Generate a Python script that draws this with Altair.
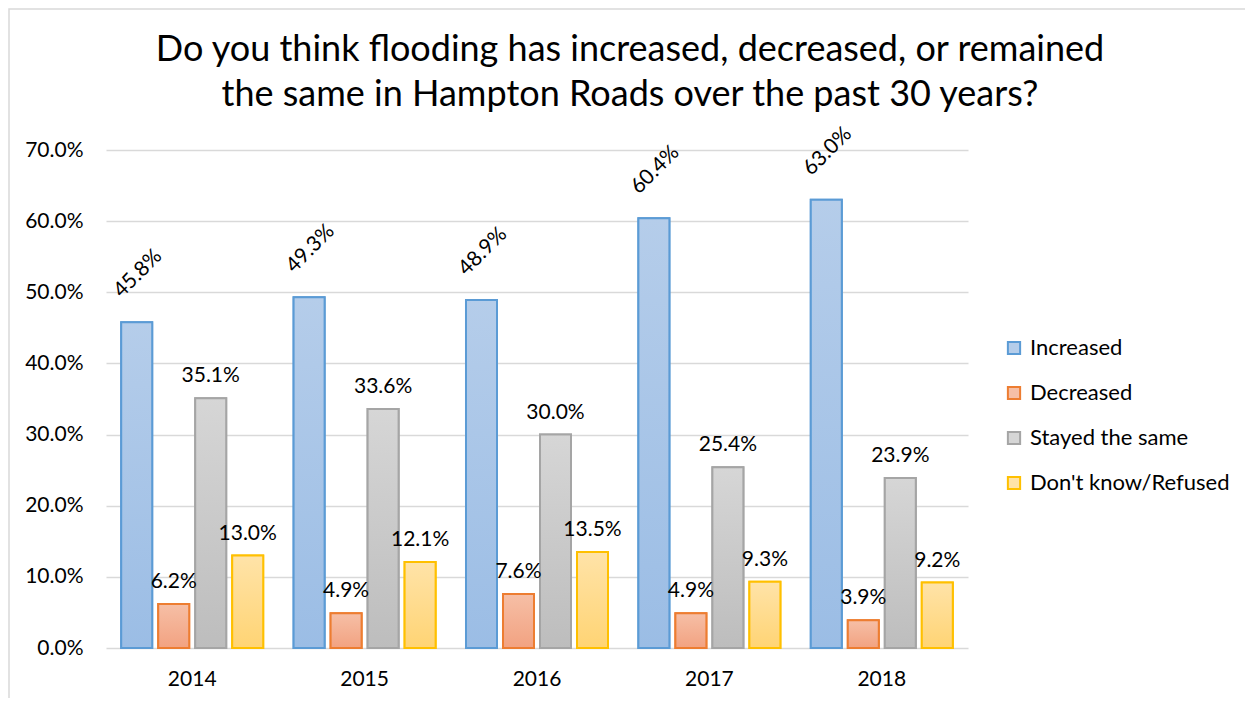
import altair as alt
import pandas as pd

years = ["2014", "2015", "2016", "2017", "2018"]
series = ["Increased", "Decreased", "Stayed the same", "Don't know/Refused"]
increased = [45.8, 49.3, 48.9, 60.4, 63.0]
decreased = [6.2, 4.9, 7.6, 4.9, 3.9]
stayed = [35.1, 33.6, 30.0, 25.4, 23.9]
dontknow = [13.0, 12.1, 13.5, 9.3, 9.2]

stroke_colors = ["#5b9bd5", "#ed7d31", "#a5a5a5", "#ffc000"]
fill_top = ["#b5cdea", "#f6bfa6", "#d6d6d6", "#ffe3a8"]
fill_bottom = ["#9bbde5", "#f2a281", "#bdbdbd", "#ffd474"]

values = [increased, decreased, stayed, dontknow]
rows = []
for s, vals in zip(series, values):
    for y, v in zip(years, vals):
        rows.append({"year": y, "series": s, "value": v / 100})
df = pd.DataFrame(rows)

FONT = "Lato"
W, H = 862, 498

x_enc = alt.X("year:N", sort=years,
              scale=alt.Scale(paddingInner=0.1415, paddingOuter=0.0708),
              axis=alt.Axis(title=None, labelAngle=0, labelFontSize=21, labelFont=FONT,
                            labelColor="#000000", labelPadding=20, ticks=False, domain=False))
y_enc = alt.Y("value:Q",
              scale=alt.Scale(domain=[0, 0.7], nice=False),
              axis=alt.Axis(title=None, format=".1%", values=[0, 0.1, 0.2, 0.3, 0.4, 0.5, 0.6, 0.7],
                            labelFontSize=21, labelFont=FONT, labelColor="#000000",
                            labelPadding=23, ticks=False, domain=False,
                            gridColor="#d9d9d9", gridWidth=1.5))
xoff = alt.XOffset("series:N", sort=series,
                   scale=alt.Scale(domain=series, paddingInner=0.162, paddingOuter=0.081))

base = alt.Chart(df).mark_bar(strokeWidth=2).encode(
    x=x_enc, y=y_enc, xOffset=xoff,
    fill=alt.Fill("series:N", sort=series,
                  scale=alt.Scale(domain=series, range=fill_top),
                  legend=alt.Legend(title=None, orient="none", legendX=897, legendY=187,
                                    symbolType="square", symbolSize=150, symbolStrokeWidth=2,
                                    labelFont=FONT, labelFontSize=22, labelColor="#000000",
                                    labelLimit=400,
                                    rowPadding=23, labelOffset=5, padding=0)),
    stroke=alt.Stroke("series:N", sort=series,
                      scale=alt.Scale(domain=series, range=stroke_colors)),
)

layers = [base]
for s, sc, ft, fb in zip(series, stroke_colors, fill_top, fill_bottom):
    grad = alt.Gradient(gradient="linear", x1=0, y1=0, x2=0, y2=1,
                        stops=[alt.GradientStop(color=ft, offset=0),
                               alt.GradientStop(color=fb, offset=1)])
    layers.append(
        alt.Chart(df).transform_filter(alt.datum.series == s)
        .mark_bar(fill=grad, stroke=sc, strokeWidth=2)
        .encode(x=x_enc, y=y_enc, xOffset=xoff)
    )

rot_labels = alt.Chart(df).transform_filter(alt.datum.series == "Increased").mark_text(
    angle=315, align="center", baseline="middle", yOffset=-47, dx=2,
    font=FONT, fontSize=21, color="#000000"
).encode(x=x_enc, y=y_enc, xOffset=xoff, text=alt.Text("value:Q", format=".1%"))

flat_labels = alt.Chart(df).transform_filter(alt.datum.series != "Increased").mark_text(
    align="center", baseline="alphabetic", dy=-16,
    font=FONT, fontSize=21, color="#000000"
).encode(x=x_enc, y=y_enc, xOffset=xoff, text=alt.Text("value:Q", format=".1%"))

frame = alt.Chart(df).mark_rect(fill=None, stroke="#d9d9d9", strokeWidth=1.5, clip=False).encode(
    x=alt.value(-97), x2=alt.value(1400), y=alt.value(-141), y2=alt.value(700)
).transform_filter(alt.datum.year == "2014").transform_filter(alt.datum.series == "Increased")

chart = alt.layer(frame, *layers, rot_labels, flat_labels).properties(
    width=W, height=H,
    title=alt.Title(["Do you think flooding has increased, decreased, or remained",
                     "the same in Hampton Roads over the past 30 years?"],
                    font=FONT, fontSize=36, fontWeight="normal", color="#000000",
                    anchor="middle", dx=93, offset=-106, lineHeight=45),
    autosize=alt.AutoSizeParams(type="none"),
    padding={"left": 98, "top": 142, "right": 277, "bottom": 50},
).configure(background="white").configure_view(stroke=None)

chart.save("out.html", embed_options={"renderer": "svg", "actions": False})
